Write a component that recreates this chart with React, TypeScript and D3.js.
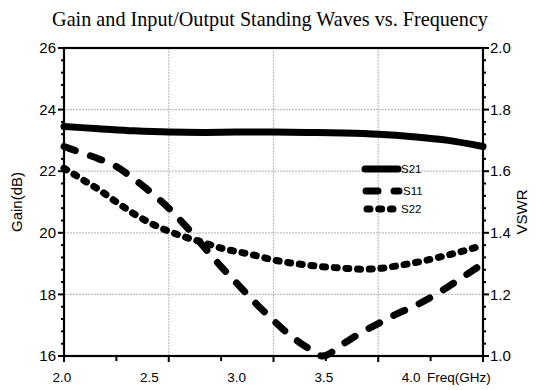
import React from "react";
import * as d3 from "d3";

const title = "Gain and Input/Output Standing Waves vs. Frequency";
const freqS21 = [2.0, 2.2, 2.4, 2.6, 2.8, 3.0, 3.2, 3.4, 3.6, 3.8, 4.0, 4.2, 4.4];
const gainS21 = [23.45, 23.38, 23.31, 23.27, 23.26, 23.27, 23.27, 23.26, 23.24, 23.2, 23.12, 23.0, 22.8];
const freqV = [2.0, 2.1, 2.2, 2.3, 2.4, 2.5, 2.6, 2.7, 2.8, 2.9, 3.0, 3.1, 3.2, 3.3, 3.4, 3.48, 3.6, 3.7, 3.8, 3.9, 4.0, 4.1, 4.2, 4.3, 4.4];
const vswrS11 = [1.68, 1.66, 1.64, 1.615, 1.575, 1.53, 1.48, 1.42, 1.355, 1.29, 1.23, 1.17, 1.115, 1.065, 1.025, 1.0, 1.04, 1.075, 1.105, 1.135, 1.16, 1.19, 1.225, 1.262, 1.3];
const vswrS22 = [1.61, 1.575, 1.54, 1.5, 1.462, 1.43, 1.405, 1.385, 1.368, 1.35, 1.338, 1.326, 1.312, 1.302, 1.295, 1.29, 1.285, 1.282, 1.284, 1.292, 1.302, 1.314, 1.328, 1.343, 1.36];
const xTickLabels = ["2.0", "2.5", "3.0", "3.5", "4.0"];
const xLabelValues = [2.0, 2.5, 3.0, 3.5, 4.0];
const leftLabels = [16, 18, 20, 22, 24, 26];
const rightLabels = [1.0, 1.2, 1.4, 1.6, 1.8, 2.0];
const legendNames = ["S21", "S11", "S22"];

const W = 538, H = 390;
const L = 64, R = 483, T = 48, B = 356;

export default function App() {
  const x = d3.scaleLinear().domain([2.0, 4.4]).range([L, R]);
  const yL = d3.scaleLinear().domain([16, 26]).range([B, T]);
  const yR = d3.scaleLinear().domain([1.0, 2.0]).range([B, T]);

  const lineL = d3.line<number>().x((_, i) => x(freqS21[i])).y((d) => yL(d)).curve(d3.curveMonotoneX);
  const lineR = d3.line<number>().x((_, i) => x(freqV[i])).y((d) => yR(d)).curve(d3.curveMonotoneX);

  const xTicks = d3.range(0, 9).map((i) => 2.0 + 0.3 * i);
  const yLTicks = d3.range(0, 26).map((i) => 16 + 0.4 * i);
  const yRTicks = d3.range(0, 26).map((i) => 1.0 + 0.04 * i);
  const hGrid = [18, 20, 22, 24];
  const vGrid = [2.6, 3.2, 3.8];

  const styles = [
    { dash: undefined as string | undefined, width: 7 },
    { dash: "12,16", width: 7 },
    { dash: "3,8.7", width: 7 },
  ];

  const sans = "'Liberation Sans', Arial, sans-serif";

  return (
    <svg width={W} height={H} style={{ display: "block", position: "absolute", left: 0, top: 0 }}>
      <rect width={W} height={H} fill="#fff" />
      <text x={270} y={26} textAnchor="middle" fontFamily="'Liberation Serif', 'Times New Roman', serif" fontSize={20.2}>
        {title}
      </text>
      {/* grid */}
      {hGrid.map((v) => (
        <line key={"h" + v} x1={L} x2={R} y1={yL(v)} y2={yL(v)} stroke="#c0c0c0" strokeWidth={1.2} strokeDasharray="2,1" />
      ))}
      {vGrid.map((v) => (
        <line key={"v" + v} x1={x(v)} x2={x(v)} y1={T} y2={B} stroke="#c0c0c0" strokeWidth={1.2} strokeDasharray="2,1" />
      ))}
      {/* data */}
      <path d={lineL(gainS21) || ""} fill="none" stroke="#000" strokeWidth={7} strokeLinecap="round" strokeLinejoin="round" />
      <path d={lineR(vswrS11) || ""} fill="none" stroke="#000" strokeWidth={7} strokeDasharray={styles[1].dash} strokeLinecap="round" />
      <path d={lineR(vswrS22) || ""} fill="none" stroke="#000" strokeWidth={7} strokeDasharray={styles[2].dash} strokeLinecap="round" />
      {/* frame */}
      <rect x={L} y={T} width={R - L} height={B - T} fill="none" stroke="#000" strokeWidth={2.2} />
      {/* x ticks */}
      {xTicks.map((v, i) => (
        <line key={"xt" + i} x1={x(v)} x2={x(v)} y1={B} y2={B + (i % 2 === 0 ? 6 : 5)} stroke="#000" strokeWidth={2} />
      ))}
      {yLTicks.map((v, i) => (
        <line key={"ylt" + i} x1={L} x2={L - (i % 5 === 0 ? 6 : 3)} y1={yL(v)} y2={yL(v)} stroke="#000" strokeWidth={2} />
      ))}
      {yRTicks.map((v, i) => (
        <line key={"yrt" + i} x1={R} x2={R + (i % 5 === 0 ? 6 : 3)} y1={yR(v)} y2={yR(v)} stroke="#000" strokeWidth={2} />
      ))}
      {/* labels */}
      {xLabelValues.map((v, i) => (
        <text key={"xl" + i} x={x(v) - 2} y={382} textAnchor="middle" fontFamily={sans} fontSize={13.5}>
          {xTickLabels[i]}
        </text>
      ))}
      <text x={427} y={382} fontFamily={sans} fontSize={13.5}>Freq(GHz)</text>
      {leftLabels.map((v) => (
        <text key={"ll" + v} x={L - 8} y={yL(v)} dy="0.35em" textAnchor="end" fontFamily={sans} fontSize={15}>
          {v}
        </text>
      ))}
      {rightLabels.map((v) => (
        <text key={"rl" + v} x={R + 7} y={yR(v)} dy="0.35em" textAnchor="start" fontFamily={sans} fontSize={15}>
          {v.toFixed(1)}
        </text>
      ))}
      <text transform={`translate(22,${(T + B) / 2}) rotate(-90)`} textAnchor="middle" fontFamily={sans} fontSize={15}>
        Gain(dB)
      </text>
      <text transform={`translate(527,${(T + B) / 2 + 10}) rotate(-90)`} textAnchor="middle" fontFamily={sans} fontSize={15}>
        VSWR
      </text>
      {/* legend */}
      {legendNames.map((n, i) => {
        const ly = [169, 191, 209][i];
        const x1 = [365, 366, 367][i];
        const x2 = [398, 399, 393][i];
        return (
          <g key={n}>
            <line x1={x1} x2={x2} y1={ly} y2={ly} stroke="#000" strokeWidth={7} strokeLinecap="round" strokeDasharray={styles[i].dash} />
            <text x={[401, 403, 401][i]} y={ly} dy="0.35em" fontFamily={sans} fontSize={11.5}>
              {n}
            </text>
          </g>
        );
      })}
    </svg>
  );
}
